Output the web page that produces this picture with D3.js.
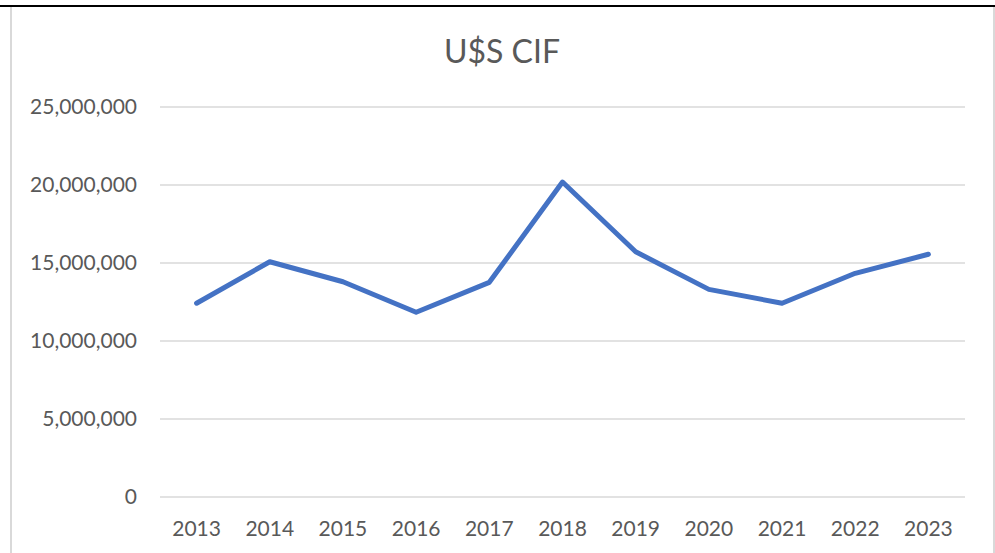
<!DOCTYPE html>
<html>
<head>
<meta charset="utf-8">
<script src="https://cdn.jsdelivr.net/npm/d3@7"></script>
<style>
  html, body { margin: 0; padding: 0; background: #fff; }
  svg { display: block; font-family: Lato, "Open Sans", sans-serif; }
</style>
</head>
<body>
<svg id="chart" width="995" height="553"></svg>
<script>
// ---- data ----
const years = ['2013', '2014', '2015', '2016', '2017', '2018', '2019', '2020', '2021', '2022', '2023'];
const cifValues = [12420000, 15080000, 13800000, 11840000, 13760000, 20190000, 15720000, 13310000, 12420000, 14340000, 15560000];
const yTicks = [0, 5000000, 10000000, 15000000, 20000000, 25000000];
const chartTitle = 'U$S CIF';

const svg = d3.select('#chart');
const W = 995, H = 553;
const plot = { left: 160, right: 965, top: 107, bottom: 497 };
const textColor = '#595959';
const gridColor = '#d9d9d9';

// frame
svg.append('rect').attr('x', 0).attr('y', 0).attr('width', W).attr('height', H).attr('fill', '#fff');
svg.append('line').attr('x1', 11).attr('x2', 11).attr('y1', 7).attr('y2', H)
  .attr('stroke', gridColor).attr('stroke-width', 2);
svg.append('line').attr('x1', 994).attr('x2', 994).attr('y1', 7).attr('y2', H)
  .attr('stroke', gridColor).attr('stroke-width', 2);
svg.append('line').attr('x1', 0).attr('x2', W).attr('y1', 6).attr('y2', 6)
  .attr('stroke', '#000').attr('stroke-width', 2);

// scales
const x = d3.scalePoint().domain(years).range([plot.left, plot.right]).padding(0.5);
const y = d3.scaleLinear().domain([0, 25000000]).range([plot.bottom, plot.top]);

// gridlines + y labels
const yAxis = svg.append('g');
yAxis.selectAll('line').data(yTicks).join('line')
  .attr('x1', plot.left).attr('x2', plot.right)
  .attr('y1', d => y(d)).attr('y2', d => y(d))
  .attr('stroke', gridColor).attr('stroke-width', 1.3);
yAxis.selectAll('text').data(yTicks).join('text')
  .attr('x', 137).attr('y', d => y(d) + 7)
  .attr('text-anchor', 'end')
  .attr('fill', textColor).attr('font-size', 21)
  .text(d => d3.format(',')(d));

// x labels
svg.append('g').selectAll('text').data(years).join('text')
  .attr('x', d => x(d)).attr('y', 536)
  .attr('text-anchor', 'middle')
  .attr('fill', textColor).attr('font-size', 21)
  .text(d => d);

// line
const line = d3.line().x((d, i) => x(years[i])).y(d => y(d));
svg.append('path').datum(cifValues)
  .attr('d', line)
  .attr('fill', 'none')
  .attr('stroke', '#4472C4')
  .attr('stroke-width', 5)
  .attr('stroke-linejoin', 'round')
  .attr('stroke-linecap', 'round');

// title
svg.append('text')
  .attr('x', 502).attr('y', 63)
  .attr('text-anchor', 'middle')
  .attr('fill', textColor).attr('font-size', 32)
  .text(chartTitle);
</script>
</body>
</html>
